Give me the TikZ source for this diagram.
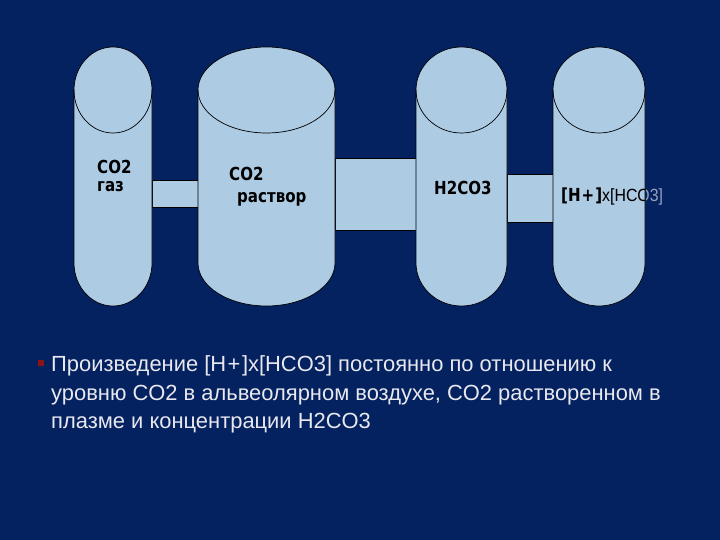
\documentclass[tikz,border=0pt]{standalone}
\usepackage{fontspec}
\setmainfont{Liberation Sans}
\newfontfamily\labfont[FakeStretch=0.84]{DejaVu Sans}
\newfontfamily\thinfont[FakeStretch=0.9]{Liberation Sans}
\definecolor{bg}{RGB}{4,33,96}
\definecolor{cylfill}{RGB}{173,203,227}
\definecolor{bul}{RGB}{140,20,20}
\definecolor{txt}{RGB}{232,232,238}
\definecolor{spill}{RGB}{150,160,190}
\tikzset{
  conn/.style={draw=black, line width=0.7bp, fill=cylfill, inner sep=0pt, rectangle},
  cyl/.style={draw=black, line width=0.7bp, fill=cylfill},
  rim/.style={draw=black, line width=0.7bp},
  lab/.style={font=\labfont\bfseries\fontsize{18}{20}\selectfont, text=black, inner sep=0pt, anchor=base west},
  body/.style={font=\fontsize{22}{29}\selectfont, text=txt, inner sep=0pt, anchor=base west}
}
\newcommand\hionlab{[H\kern1bp+\kern1bp]{\thinfont\mdseries\fontsize{17.7}{20}\selectfont x[HCO3]}}
\begin{document}
\begin{tikzpicture}[x=1bp,y=-1bp]
\fill[bg] (0,0) rectangle (720,540);
\useasboundingbox (0,0) rectangle (720,540);
% connectors
\node[conn, minimum width=46bp, minimum height=27bp] (c1) at (175,193.5) {};
\node[conn, minimum width=81bp, minimum height=72bp] (c2) at (375.5,194) {};
\node[conn, minimum width=46bp, minimum height=48bp] (c3) at (530,198) {};
% cylinders
\path[cyl] (74,90) -- (74,263) arc[start angle=180,end angle=0,x radius=39,y radius=43] -- (152,90) arc[start angle=0,end angle=-180,x radius=39,y radius=43] -- cycle;
\draw[rim] (74,90) arc[start angle=180,end angle=0,x radius=39,y radius=43];
\coordinate (k1) at (113,176);
\path[cyl] (198,90) -- (198,263) arc[start angle=180,end angle=0,x radius=68.5,y radius=43] -- (335,90) arc[start angle=0,end angle=-180,x radius=68.5,y radius=43] -- cycle;
\draw[rim] (198,90) arc[start angle=180,end angle=0,x radius=68.5,y radius=43];
\coordinate (k2) at (266.5,176);
\path[cyl] (416,90) -- (416,263) arc[start angle=180,end angle=0,x radius=45.5,y radius=43] -- (507,90) arc[start angle=0,end angle=-180,x radius=45.5,y radius=43] -- cycle;
\draw[rim] (416,90) arc[start angle=180,end angle=0,x radius=45.5,y radius=43];
\coordinate (k3) at (461.5,176);
\path[cyl] (553,90) -- (553,263) arc[start angle=180,end angle=0,x radius=46,y radius=43] -- (645,90) arc[start angle=0,end angle=-180,x radius=46,y radius=43] -- cycle;
\draw[rim] (553,90) arc[start angle=180,end angle=0,x radius=46,y radius=43];
\coordinate (k4) at (599,176);
% labels
\node[lab, text depth=0pt] (g1a) at (97,174) {CO2};
\node[lab] (g1b) at (97,191.5) {газ};
\node[lab, text depth=0pt] (g2a) at (229,180.5) {CO2};
\node[lab] (g2b) at (237,202.5) {раствор};
\node[lab] (g3) at (434,194.5) {H2CO3};
\node[lab, text=spill] (g4s) at (561,201.5) {\hionlab};
\begin{scope}
\clip (553,90) -- (553,263) arc[start angle=180,end angle=0,x radius=46,y radius=43] -- (645,90) arc[start angle=0,end angle=-180,x radius=46,y radius=43] -- cycle;
\node[lab] (g4) at (561,201.5) {\hionlab};
\end{scope}
% bullet text
\node[fill=bul, minimum size=6bp, inner sep=0pt] (b1) at (41,362.5) {};
\node[body] (l1) at (51,371) {Произведение [H\kern1.5bp+\kern1.5bp]x[HCO3] постоянно по отношению к};
\node[body] (l2) at (51,400) {уровню CO2 в альвеолярном воздухе, CO2 растворенном в};
\node[body] (l3) at (51,428) {плазме и концентрации H2CO3};
\end{tikzpicture}
\end{document}
